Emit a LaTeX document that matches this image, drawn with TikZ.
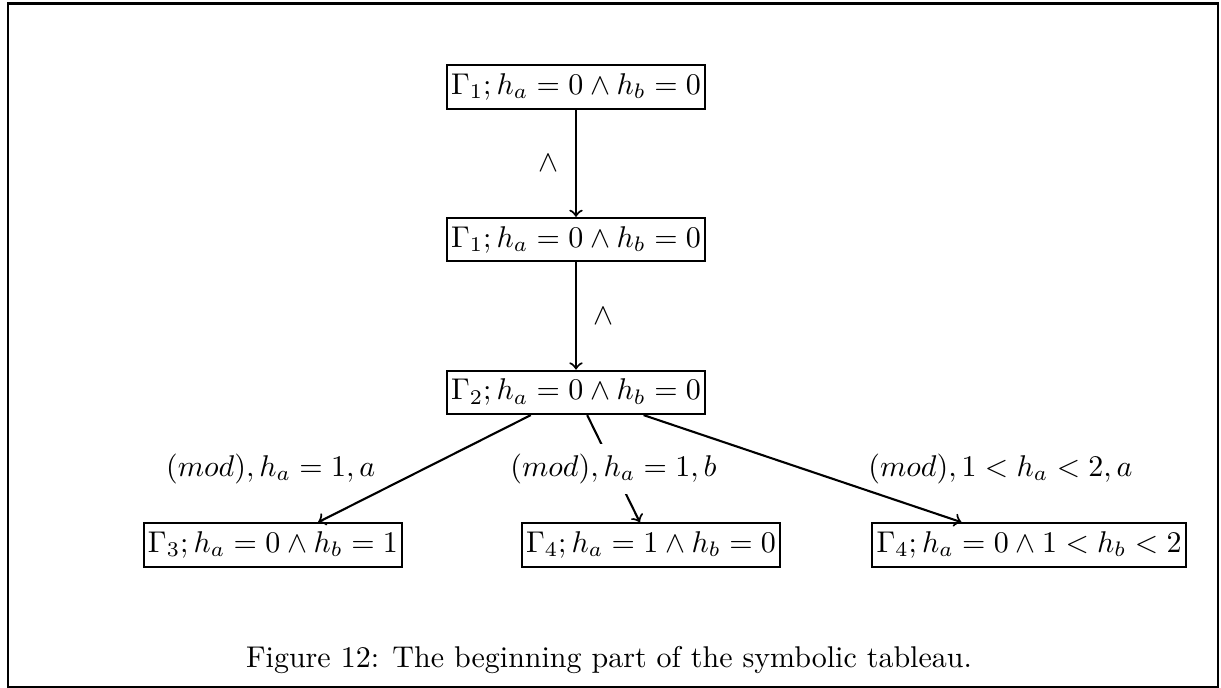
\documentclass[tikz,border=0pt]{standalone}
\usetikzlibrary{positioning}
\usepackage{amsmath}

\begin{document}
\begin{tikzpicture}[
  node distance=35.7pt and 1cm,
  state/.style={draw, line width=0.7pt, inner xsep=1.4pt, inner ysep=2.8pt},
  arr/.style={->, line width=0.7pt}
]
\useasboundingbox (0,0) rectangle (407pt,-229.33pt);
\draw[line width=0.8pt] (2.7pt,-1.2pt) rectangle (406pt,-229pt);

\node[state] (gone) at (192pt,-29pt) {$\Gamma_1; h_a = 0 \wedge h_b = 0$};
\node[state, below=of gone] (gonebis) {$\Gamma_1; h_a = 0 \wedge h_b = 0$};
\node[state, below=of gonebis] (gtwo) {$\Gamma_2; h_a = 0 \wedge h_b = 0$};
\node[state, below=of gtwo, xshift=-101pt] (gthree) {$\Gamma_3; h_a = 0 \wedge h_b = 1$};
\node[state, below=of gtwo, xshift=25pt] (gfour) {$\Gamma_4; h_a = 1 \wedge h_b = 0$};
\node[state, below=of gtwo, xshift=151pt] (gfive) {$\Gamma_4; h_a = 0 \wedge 1 < h_b < 2$};

\draw[arr] (gone) -- node[left=2pt] {$\wedge$} (gonebis);
\draw[arr] (gonebis) -- node[right=2pt] {$\wedge$} (gtwo);
\draw[arr] (gtwo) -- node[left=12.7pt] {$(mod), h_a = 1, a$} (gthree);
\draw[arr] (gtwo) -- node[fill=white] {$(mod), h_a = 1, b$} (gfour);
\draw[arr] (gtwo) -- node[right=18.3pt] {$(mod), 1 < h_a < 2, a$} (gfive);

\node (caption) at (203pt,-220pt) {Figure 12: The beginning part of the symbolic tableau.};
\end{tikzpicture}
\end{document}
